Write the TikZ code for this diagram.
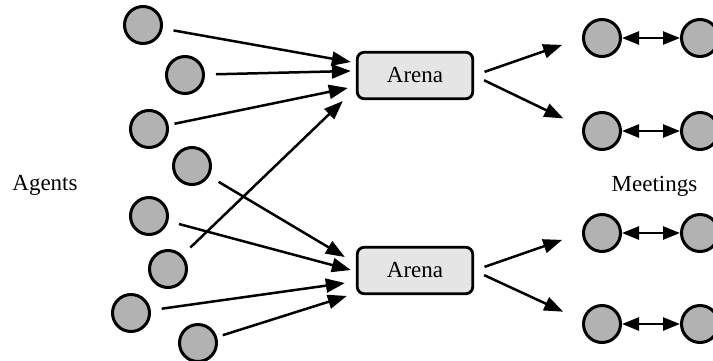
\documentclass[tikz,border=0pt]{standalone}
\usepackage{fontspec}
\setmainfont{Liberation Serif}
\usetikzlibrary{arrows.meta,calc}

\begin{document}
\begin{tikzpicture}[x=0.5pt,y=-0.5pt,
    agent/.style={circle,draw,line width=1.5pt,fill=black!30,minimum size=18.5pt,inner sep=0pt},
    arena/.style={rectangle,rounded corners=3.5pt,draw,line width=1.4pt,fill=black!10,
        minimum width=57.75pt,minimum height=23.25pt,font=\fontsize{11.5}{13}\selectfont},
    flow/.style={line width=1.25pt,-{Triangle[length=9.5pt,width=7pt]},shorten <=5.5pt},
    split/.style={line width=1.25pt,-{Triangle[length=9.5pt,width=7pt]},shorten <=5.5pt,shorten >=10.5pt},
    pair/.style={line width=1.25pt,{Triangle[length=8.5pt,width=6.5pt]}-{Triangle[length=8.5pt,width=6.5pt]}},
    lbl/.style={font=\fontsize{11.5}{13}\selectfont,anchor=base}]
    \useasboundingbox (0,0) rectangle (713,360);

    % Agents on the left
    \node[agent] (ag1) at (143,25) {};
    \node[agent] (ag2) at (185,75) {};
    \node[agent] (ag3) at (149,129) {};
    \node[agent] (ag4) at (192,166) {};
    \node[agent] (ag5) at (149,216) {};
    \node[agent] (ag6) at (168,269) {};
    \node[agent] (ag7) at (131,313) {};
    \node[agent] (ag8) at (198,343) {};
    \node[lbl] (agents) at (45,190) {Agents};

    % The two arenas
    \node[arena] (arenaTop) at (415,75.5) {Arena};
    \node[arena] (arenaBot) at (415,270.5) {Arena};

    % Arrow ends in front of the arenas
    \coordinate (inT1) at ($(arenaTop.west)+(-5,-13.5)$);
    \coordinate (inT2) at ($(arenaTop.west)+(-5,-4.5)$);
    \coordinate (inT3) at ($(arenaTop.west)+(-8,12.5)$);
    \coordinate (inT4) at ($(arenaTop.west)+(-13,25.5)$);
    \coordinate (inB1) at ($(arenaBot.west)+(-11,-13.5)$);
    \coordinate (inB2) at ($(arenaBot.west)+(-5,-0.5)$);
    \coordinate (inB3) at ($(arenaBot.west)+(-11,12.5)$);
    \coordinate (inB4) at ($(arenaBot.west)+(-9,25.5)$);

    % Agents entering an arena
    \draw[flow] (ag1) -- (inT1);
    \draw[flow] (ag2) -- (inT2);
    \draw[flow,shorten <=3pt] (ag3) -- (inT3);
    \draw[flow] (ag6) -- (inT4);
    \draw[flow] (ag4) -- (inB1);
    \draw[flow] (ag5) -- (inB2);
    \draw[flow] (ag7) -- (inB3);
    \draw[flow,shorten <=3pt] (ag8) -- (inB4);

    % Meetings on the right
    \node[agent] (m1a) at (602,38) {};
    \node[agent] (m1b) at (700,38) {};
    \node[agent] (m2a) at (602,131) {};
    \node[agent] (m2b) at (700,131) {};
    \node[agent] (m3a) at (602,233) {};
    \node[agent] (m3b) at (700,233) {};
    \node[agent] (m4a) at (602,324) {};
    \node[agent] (m4b) at (700,324) {};
    \node[lbl] (meetings) at (654.5,191.5) {Meetings};

    \draw[pair] (m1a) -- (m1b);
    \draw[pair] (m2a) -- (m2b);
    \draw[pair] (m3a) -- (m3b);
    \draw[pair] (m4a) -- (m4b);

    % Arenas sending pairs to meetings
    \draw[split] (arenaTop.east) -- (m1a.west);
    \draw[split] (arenaTop.east) -- (m2a.170);
    \draw[split] (arenaBot.east) -- (m3a.west);
    \draw[split] (arenaBot.east) -- (m4a.170);
\end{tikzpicture}
\end{document}
